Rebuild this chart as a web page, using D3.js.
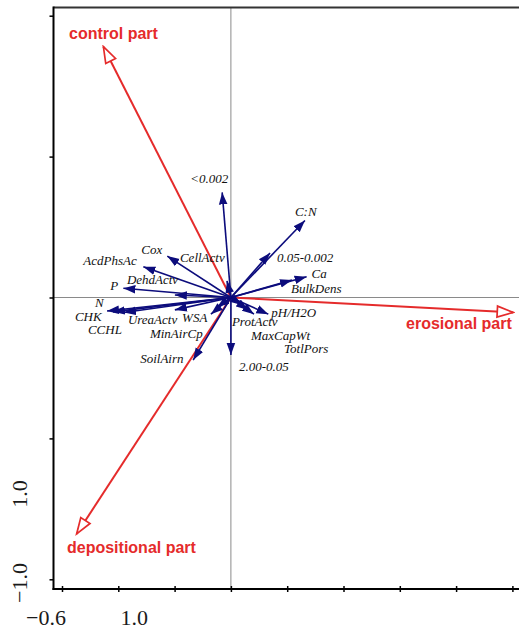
<!DOCTYPE html>
<html>
<head>
<meta charset="utf-8">
<script src="https://cdn.jsdelivr.net/npm/d3@7"></script>
<style>
  body { margin: 0; background: #fff; }
</style>
</head>
<body>
<svg id="drawing_region"></svg>
<script>
// soil variables (blue arrows), scores on axis 1 / axis 2
const varNames = ["<0.002", "C:N", "0.05-0.002", "Ca", "BulkDens", "pH/H2O", "ProtActv",
    "MaxCapWt", "TotlPors", "2.00-0.05", "SoilAirn", "MinAirCp", "WSA", "UreaActv",
    "CCHL", "CHK", "N", "P", "DehdActv", "AcdPhsAc", "Cox", "CellActv"];
const varAx1 = [-0.031, 0.263, 0.139, 0.269, 0.217, 0.133, 0.039,
    0.082, 0.061, 0.000, -0.134, -0.071, -0.049, -0.199,
    -0.380, -0.419, -0.440, -0.382, -0.199, -0.311, -0.226, -0.014];
const varAx2 = [0.373, 0.273, 0.158, 0.074, 0.062, -0.059, -0.027,
    -0.059, -0.044, -0.204, -0.222, -0.059, -0.034, -0.044,
    -0.053, -0.051, -0.048, 0.033, 0.009, 0.109, 0.147, 0.059];

// slope parts (red arrows)
const partNames = ["control part", "erosional part", "depositional part"];
const partAx1 = [-0.453, 1.003, -0.548];
const partAx2 = [0.890, -0.053, -0.839];

// axis ticks and their (odd) printed labels
const xTicks = [-0.6, -0.4, -0.2, 0, 0.2, 0.4, 0.6, 0.8, 1.0];
const yTicks = [-1.0, -0.5, 0, 0.5, 1.0];
const xTickLabelAt = [-0.6, -0.4];
const xTickLabelText = ["\u22120.6", "1.0"];
const yTickLabelAt = [-0.5, -1.0];
const yTickLabelText = ["1.0", "\u22121.0"];

// label placement (pixels from the arrow tip)
const varLabelOffset = {
    "<0.002": [-32, -9], "C:N": [-10, -5], "0.05-0.002": [7, 9], "Ca": [5, 1],
    "BulkDens": [-1, 13], "pH/H2O": [3, 3], "ProtActv": [-10, 21], "MaxCapWt": [-3, 26],
    "TotlPors": [36, 43], "2.00-0.05": [8, 16], "SoilAirn": [-53, 3], "MinAirCp": [-61, 24],
    "WSA": [-35, 15], "UreaActv": [-47, 14], "CCHL": [-36, 22], "CHK": [-38, 9],
    "N": [-12, -4], "P": [-13, 2], "DehdActv": [-48, -11], "AcdPhsAc": [-60, -2],
    "Cox": [-26, -2], "CellActv": [-47, -19]
};
const partLabelPos = {
    "control part": [69, 39], "erosional part": [406, 329], "depositional part": [67, 553]
};

class Biplot {

    constructor( config ) {
        this.config = config;
        this.init();
    }

    init() {
        let self = this;
        const c = self.config;

        self.svg = d3.select( c.parent )
            .attr('width', c.width)
            .attr('height', c.height);

        self.xscale = d3.scaleLinear()
            .domain([-0.6, 1.0])
            .range([62, 62 + 56.3 * 8]);

        self.yscale = d3.scaleLinear()
            .domain([-1.0, 1.0])
            .range([579.3, 15.7]);

        const defs = self.svg.append('defs');
        defs.append('marker')
            .attr('id', 'head-blue')
            .attr('viewBox', '0 -5 12 10')
            .attr('refX', 12).attr('refY', 0)
            .attr('markerUnits', 'userSpaceOnUse')
            .attr('markerWidth', 12).attr('markerHeight', 10)
            .attr('orient', 'auto')
            .append('path')
            .attr('d', 'M0,-4.3L12,0L0,4.3Z')
            .attr('fill', c.blue);

        defs.append('marker')
            .attr('id', 'head-red')
            .attr('viewBox', '-2 -8 20 16')
            .attr('refX', 16).attr('refY', 0)
            .attr('markerUnits', 'userSpaceOnUse')
            .attr('markerWidth', 20).attr('markerHeight', 16)
            .attr('orient', 'auto')
            .append('path')
            .attr('d', 'M0,-5.5L16,0L0,5.5Z')
            .attr('fill', '#fff')
            .attr('stroke', c.red)
            .attr('stroke-width', 1.7);
    }

    render() {
        let self = this;
        const c = self.config;
        const x0 = self.xscale(0), y0 = self.yscale(0);
        const left = c.left, top = c.top, bottom = c.bottom;

        // zero lines
        self.svg.append('line')
            .attr('x1', left).attr('x2', c.width)
            .attr('y1', y0).attr('y2', y0)
            .attr('stroke', '#8a8a8a').attr('stroke-width', 1);
        self.svg.append('line')
            .attr('x1', x0).attr('x2', x0)
            .attr('y1', top).attr('y2', bottom)
            .attr('stroke', '#8a8a8a').attr('stroke-width', 1);

        // frame
        self.svg.append('line')
            .attr('x1', left).attr('x2', c.width)
            .attr('y1', top).attr('y2', top)
            .attr('stroke', '#333').attr('stroke-width', 2);

        const xaxis = d3.axisBottom(self.xscale)
            .tickValues(xTicks).tickSize(3).tickFormat('');
        const xg = self.svg.append('g')
            .attr('transform', `translate(0, ${bottom})`)
            .call(xaxis);
        xg.select('.domain').remove();
        xg.selectAll('.tick line').attr('y1', -3).attr('stroke', '#000').attr('stroke-width', 1.5);
        self.svg.append('line')
            .attr('x1', left - 1).attr('x2', c.width)
            .attr('y1', bottom).attr('y2', bottom)
            .attr('stroke', '#000').attr('stroke-width', 2);

        const yaxis = d3.axisLeft(self.yscale)
            .tickValues(yTicks).tickSize(4).tickFormat('');
        const yg = self.svg.append('g')
            .attr('transform', `translate(${left}, 0)`)
            .call(yaxis);
        yg.select('.domain').remove();
        yg.selectAll('.tick line').attr('stroke', '#000').attr('stroke-width', 1.5);
        self.svg.append('line')
            .attr('x1', left).attr('x2', left)
            .attr('y1', top - 1).attr('y2', bottom + 1)
            .attr('stroke', '#000').attr('stroke-width', 2);

        // tick labels
        self.svg.selectAll('.xlab')
            .data(xTickLabelAt)
            .join('text')
            .attr('x', (d, i) => self.xscale(d) + (i == 0 ? -16 : 16))
            .attr('y', 625)
            .attr('text-anchor', 'middle')
            .attr('font-family', '"Liberation Serif", serif')
            .attr('font-size', '22px')
            .attr('fill', '#1a1a1a')
            .text((d, i) => xTickLabelText[i]);

        self.svg.selectAll('.ylab')
            .data(yTickLabelAt)
            .join('text')
            .attr('transform', (d, i) => {
                const cy = i == 0 ? 494 : 583;
                return `translate(27, ${cy}) rotate(-90)`;
            })
            .attr('text-anchor', 'middle')
            .attr('font-family', '"Liberation Serif", serif')
            .attr('font-size', '22px')
            .attr('fill', '#1a1a1a')
            .text((d, i) => yTickLabelText[i]);

        // red arrows
        self.svg.selectAll('.part')
            .data(partNames)
            .join('line')
            .attr('x1', x0).attr('y1', y0)
            .attr('x2', (d, i) => self.xscale(partAx1[i]))
            .attr('y2', (d, i) => self.yscale(partAx2[i]))
            .attr('stroke', c.red)
            .attr('stroke-width', 2)
            .attr('marker-end', 'url(#head-red)');

        // blue arrows
        self.svg.selectAll('.var')
            .data(varNames)
            .join('line')
            .attr('x1', x0).attr('y1', y0)
            .attr('x2', (d, i) => self.xscale(varAx1[i]))
            .attr('y2', (d, i) => self.yscale(varAx2[i]))
            .attr('stroke', c.blue)
            .attr('stroke-width', 1.6)
            .attr('marker-end', 'url(#head-blue)');

        self.svg.selectAll('.varlab')
            .data(varNames)
            .join('text')
            .attr('x', (d, i) => self.xscale(varAx1[i]) + varLabelOffset[d][0])
            .attr('y', (d, i) => self.yscale(varAx2[i]) + varLabelOffset[d][1])
            .attr('font-family', '"Liberation Serif", "Times New Roman", serif')
            .attr('font-style', 'italic')
            .attr('font-size', '13px')
            .attr('fill', '#111')
            .text(d => d);

        self.svg.selectAll('.partlab')
            .data(partNames)
            .join('text')
            .attr('x', d => partLabelPos[d][0])
            .attr('y', d => partLabelPos[d][1])
            .attr('font-family', '"Liberation Sans", Arial, sans-serif')
            .attr('font-weight', 'bold')
            .attr('font-size', '16px')
            .attr('fill', c.red)
            .text(d => d);
    }
}

const chart = new Biplot({
    parent: '#drawing_region',
    width: 519,
    height: 633,
    left: 53.5,
    top: 7.5,
    bottom: 589,
    red: '#e52b2b',
    blue: '#0c0c7c'
});
chart.render();
</script>
</body>
</html>
